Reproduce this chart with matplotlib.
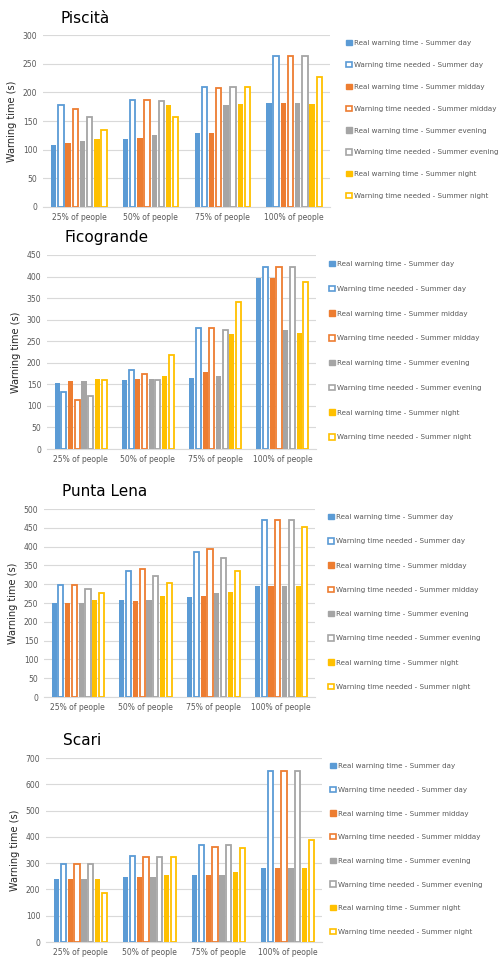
import numpy as np
import matplotlib
matplotlib.use("Agg")
import matplotlib.pyplot as plt
from matplotlib.patches import Patch

# categories and series
groups = ["25% of people", "50% of people", "75% of people", "100% of people"]
series_names = [
    "Real warning time - Summer day",
    "Warning time needed - Summer day",
    "Real warning time - Summer midday",
    "Warning time needed - Summer midday",
    "Real warning time - Summer evening",
    "Warning time needed - Summer evening",
    "Real warning time - Summer night",
    "Warning time needed - Summer night",
]
colors = ["#5B9BD5", "#5B9BD5", "#ED7D31", "#ED7D31",
          "#A5A5A5", "#A5A5A5", "#FFC000", "#FFC000"]
filled = [True, False, True, False, True, False, True, False]

# values per site: rows = series, cols = groups
piscita = [
    [109, 119, 129, 181],
    [178, 187, 209, 263],
    [111, 121, 129, 181],
    [172, 187, 208, 263],
    [115, 125, 178, 181],
    [157, 185, 210, 263],
    [119, 178, 180, 180],
    [134, 157, 210, 227],
]
ficogrande = [
    [153, 160, 165, 397],
    [133, 184, 280, 421],
    [157, 163, 179, 397],
    [114, 175, 280, 421],
    [157, 163, 170, 275],
    [123, 161, 277, 421],
    [163, 170, 266, 270],
    [161, 218, 341, 387],
]
punta_lena = [
    [250, 258, 266, 296],
    [297, 336, 386, 471],
    [250, 256, 268, 296],
    [297, 340, 393, 471],
    [251, 259, 278, 296],
    [286, 322, 369, 471],
    [258, 268, 280, 296],
    [278, 302, 335, 452],
]
scari = [
    [240, 249, 256, 282],
    [295, 328, 368, 651],
    [240, 249, 256, 282],
    [295, 325, 363, 651],
    [240, 249, 256, 282],
    [295, 325, 368, 651],
    [240, 256, 268, 282],
    [187, 323, 356, 389],
]

# title, data, ymax, tick step, axes rect, legend anchor, legend spacing
panels = [
    ("Piscità", piscita, 300, 50, [0.086, 0.7855, 0.574, 0.178], (0.692, 0.9585), 2.21),
    ("Ficogrande", ficogrande, 450, 50, [0.094, 0.5347, 0.538, 0.2011], (0.658, 0.7295), 2.62),
    ("Punta Lena", punta_lena, 500, 50, [0.088, 0.2777, 0.542, 0.1948], (0.656, 0.4674), 2.55),
    ("Scari", scari, 700, 100, [0.092, 0.0238, 0.552, 0.1907], (0.660, 0.2093), 2.47),
]

fig = plt.figure(figsize=(5.0, 9.65), dpi=100)
text_gray = "#595959"

x = np.arange(len(groups))
step = 0.1
width = 0.075

for title, data, ymax, ystep, rect, legpos, lspace in panels:
    ax = fig.add_axes(rect)
    handles = []
    for i in range(8):
        pos = x + (i - 3.5) * step
        if filled[i]:
            ax.bar(pos, data[i], width, color=colors[i], zorder=3)
            handles.append(Patch(facecolor=colors[i], edgecolor=colors[i]))
        else:
            ax.bar(pos, data[i], width, facecolor="white", edgecolor=colors[i],
                   linewidth=1.3, zorder=3)
            handles.append(Patch(facecolor="white", edgecolor=colors[i], linewidth=1.2))
    ax.set_xlim(-0.5, 3.5)
    ax.set_ylim(0, ymax)
    ax.set_yticks(np.arange(0, ymax + 1, ystep))
    ax.set_xticks(x)
    ax.set_xticklabels(groups)
    ax.tick_params(length=0, labelsize=5.5, colors=text_gray, pad=4)
    ax.grid(axis="y", color="#D9D9D9", linewidth=0.8, zorder=0)
    for s in ["top", "right", "left"]:
        ax.spines[s].set_visible(False)
    ax.spines["bottom"].set_color("#D9D9D9")
    ax.set_ylabel("Warning time (s)", fontsize=7, color="#262626")
    fig.text(rect[0] + 0.035, rect[1] + rect[3] + 0.01, title,
             fontsize=11, color="black", va="bottom")
    fig.legend(handles, series_names, loc="upper left", bbox_to_anchor=legpos,
               frameon=False, fontsize=5.1, labelcolor=text_gray,
               handlelength=0.8, handleheight=0.8, handletextpad=0.3,
               labelspacing=lspace, borderaxespad=0, borderpad=0)

fig.savefig("out.png", dpi=100)
